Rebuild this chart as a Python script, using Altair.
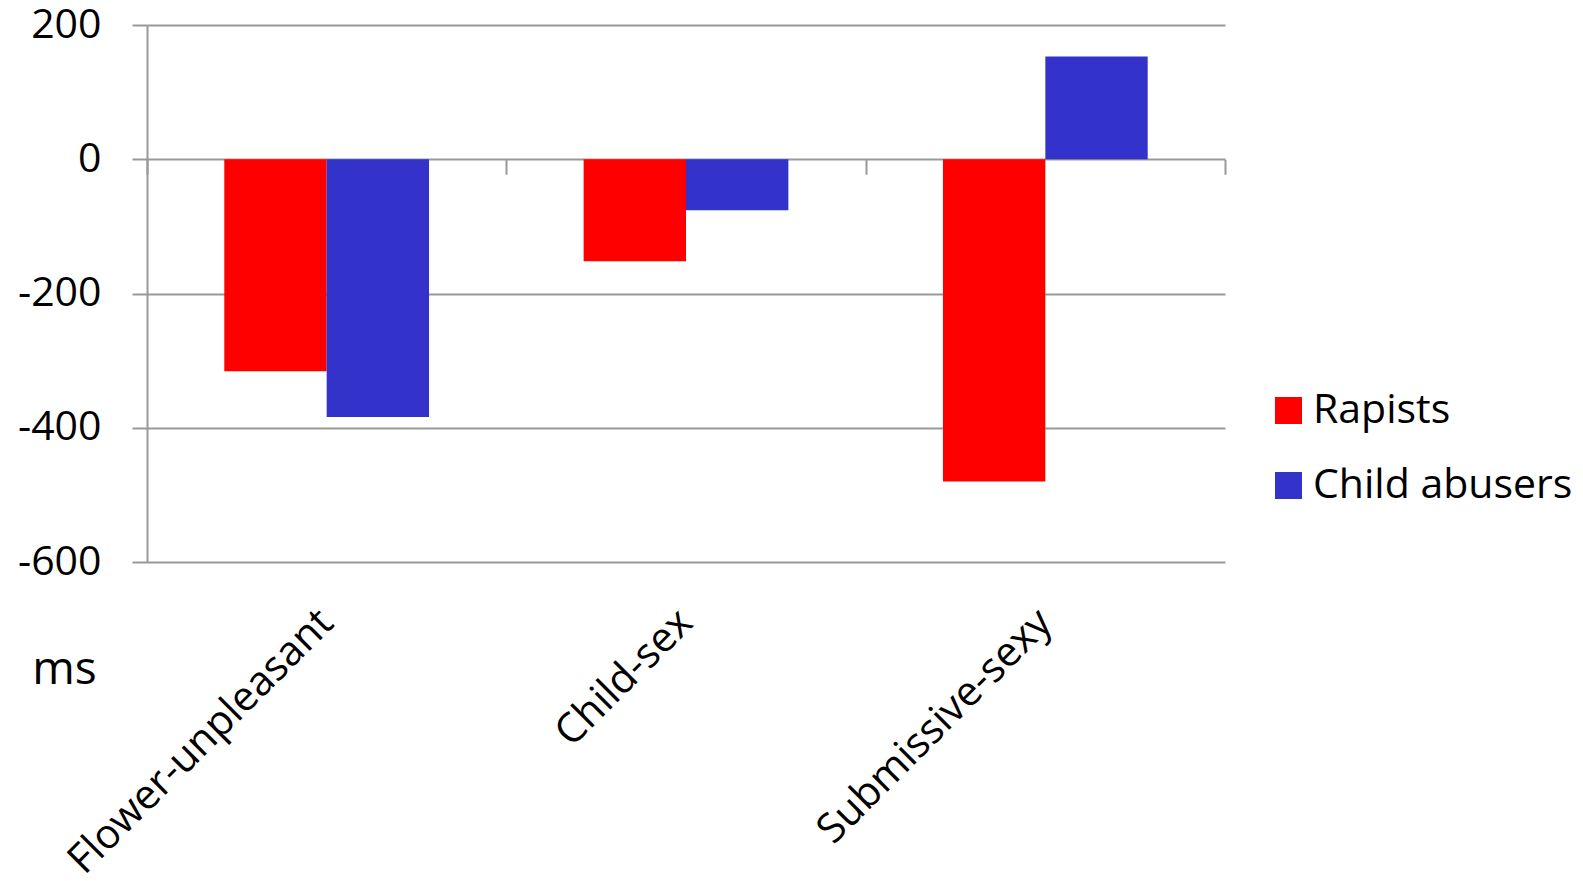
import altair as alt
import pandas as pd

# Mean IAT-style differences (ms) per stimulus pairing and offender group
categories = ["Flower-unpleasant", "Child-sex", "Submissive-sexy"]
groups = ["Rapists", "Child abusers"]
rapists = [-316, -152, -480]
child_abusers = [-384, -76, 153]
colors = ["#ff0000", "#3333cc"]
y_ticks = [-600, -400, -200, 0, 200]

rows = []
for cat, r, a in zip(categories, rapists, child_abusers):
    rows.append({"Category": cat, "Group": groups[0], "Value": r})
    rows.append({"Category": cat, "Group": groups[1], "Value": a})
df = pd.DataFrame(rows)

TOTAL_W, TOTAL_H = 1583, 881
LEFT, TOP = 147, 25
W, H = 1078, 537
Y_MIN, Y_MAX = -600, 200
# offset that lifts a bottom axis up onto the zero line
zero_offset = -H * (0 - Y_MIN) / (Y_MAX - Y_MIN)
FONT = "Open Sans"
GRID = "#999999"

x_scale = alt.Scale(domain=categories, paddingInner=0, paddingOuter=0)
y_scale = alt.Scale(domain=[Y_MIN, Y_MAX], nice=False, zero=False)

bars = alt.Chart(df).mark_bar().encode(
    x=alt.X(
        "Category:N",
        scale=x_scale,
        sort=categories,
        axis=alt.Axis(
            title=None,
            orient="bottom",
            domain=False,
            ticks=False,
            labelAngle=-45,
            labelAlign="right",
            labelBaseline="top",
            labelPadding=40,
            labelOffset=-14,
            labelFont=FONT,
            labelFontSize=41,
            labelColor="black",
            labelLimit=0,
        ),
    ),
    xOffset=alt.XOffset(
        "Group:N",
        sort=groups,
        scale=alt.Scale(domain=groups, paddingInner=0, paddingOuter=0.755),
    ),
    y=alt.Y(
        "Value:Q",
        scale=y_scale,
        axis=alt.Axis(
            values=y_ticks,
            labelExpr="'' + datum.value",
            title="ms",
            titleAngle=0,
            titleX=-83,
            titleY=644,
            titleAlign="center",
            titleBaseline="middle",
            titleFont=FONT,
            titleFontSize=46,
            titleFontWeight="normal",
            titleColor="black",
            domain=True,
            domainColor=GRID,
            domainWidth=2,
            ticks=True,
            tickSize=15,
            tickColor=GRID,
            tickWidth=2,
            grid=True,
            gridColor=GRID,
            gridWidth=2,
            gridOpacity=1,
            labelFont=FONT,
            labelFontSize=41,
            labelColor="black",
            labelPadding=31,
        ),
    ),
    color=alt.Color(
        "Group:N",
        sort=groups,
        scale=alt.Scale(domain=groups, range=colors),
        legend=alt.Legend(
            title=None,
            orient="none",
            legendX=1121,
            legendY=365,
            symbolType="square",
            symbolSize=729,
            symbolStrokeWidth=0,
            symbolOpacity=1,
            labelFont=FONT,
            labelFontSize=41,
            labelColor="black",
            labelOffset=4,
            labelLimit=0,
            rowPadding=33,
            padding=0,
        ),
    ),
)

# category separators hanging from the zero line
separators = alt.Chart(pd.DataFrame({"Category": categories})).mark_point(opacity=0).encode(
    x=alt.X(
        "Category:N",
        scale=x_scale,
        sort=categories,
        axis=alt.Axis(
            title=None,
            orient="bottom",
            offset=zero_offset,
            labels=False,
            domain=False,
            tickBand="extent",
            tickSize=15,
            tickColor=GRID,
            tickWidth=2,
        ),
    ),
)

chart = (
    alt.layer(bars, separators)
    .resolve_axis(x="independent")
    .properties(
        width=W,
        height=H,
        padding={
            "left": LEFT,
            "top": TOP,
            "right": TOTAL_W - LEFT - W,
            "bottom": TOTAL_H - TOP - H,
        },
        autosize=alt.AutoSizeParams(type="none"),
    )
    .configure_view(stroke=None)
)

chart.save("out.html", embed_options={"renderer": "svg", "actions": False})
